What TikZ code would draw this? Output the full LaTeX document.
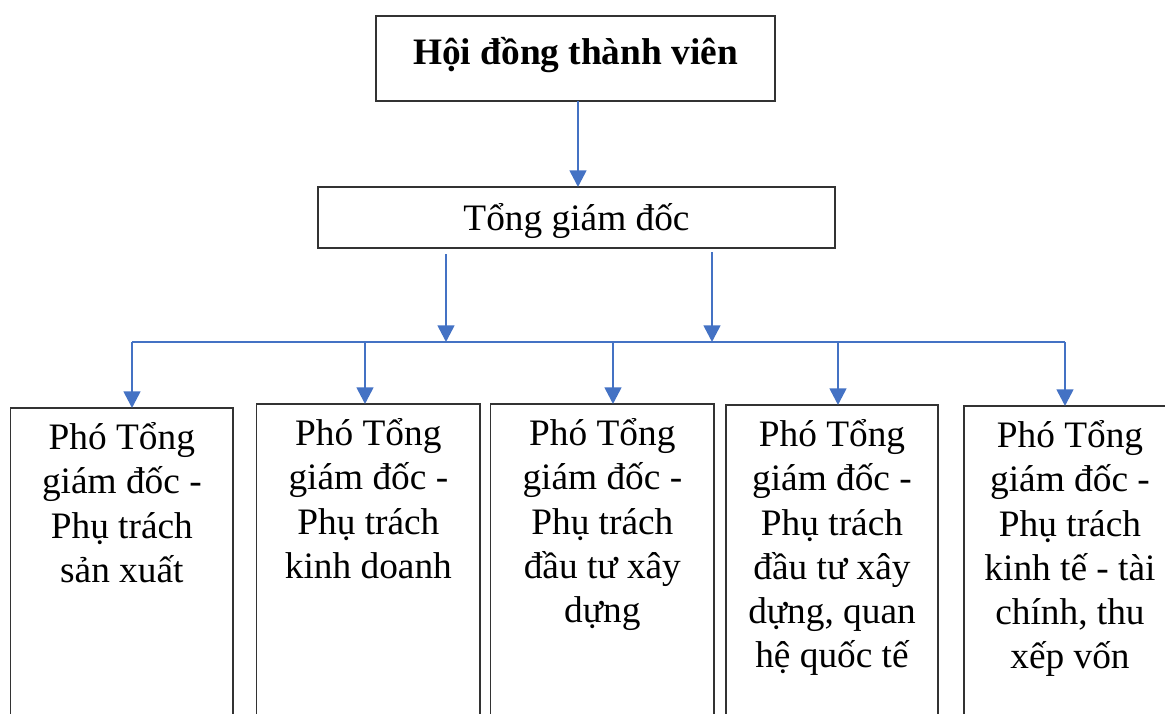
\documentclass[tikz,border=0pt]{standalone}
\usepackage{fontspec}
\setmainfont{Liberation Serif}
\usetikzlibrary{arrows.meta}
\definecolor{lineblue}{RGB}{68,114,196}
\tikzset{every picture/.style={line width=0.75pt}}
\tikzset{
  box/.style={draw=black!80, line width=1.1pt, inner sep=0pt, outer sep=0pt, anchor=north west, font=\fontsize{28pt}{33.2pt}\selectfont},
  boxtext/.style={font=\fontsize{28pt}{33.2pt}\selectfont, align=center, inner sep=0pt, anchor=north},
  bluearrow/.style={draw=lineblue, line width=2pt, -{Triangle[length=12.5pt,width=12.5pt]}},
  busline/.style={draw=lineblue, line width=1.2pt}
}

\begin{document}
\begin{tikzpicture}[x=0.75pt,y=0.75pt,yscale=-1,xscale=1]
	\useasboundingbox (0,0) rectangle (1165,714);
	
	%Shape: Rectangle
	\node [box, minimum width=299.25pt, minimum height=63.75pt] (hdtv) at (376,16) {};
	% Text Node
	\node [boxtext, anchor=base, font=\fontsize{28pt}{33.2pt}\selectfont\bfseries] (hdtvtext) at (575.5,64) {Hội đồng thành viên};
	%Shape: Rectangle
	\node [box, minimum width=387.75pt, minimum height=45.75pt, text depth=1.2pt] (tgd) at (318,187) {Tổng giám đốc};
	
	%Shape: Rectangle
	\node [box, minimum width=166.7pt, minimum height=241.5pt] (b1) at (10.7,408) {};
	%Shape: Rectangle
	\node [box, minimum width=167.5pt, minimum height=244.5pt] (b2) at (256.7,404) {};
	%Shape: Rectangle
	\node [box, minimum width=167.5pt, minimum height=244.5pt] (b3) at (490.7,404) {};
	%Shape: Rectangle
	\node [box, minimum width=159pt, minimum height=243.75pt] (b4) at (726,405) {};
	%Shape: Rectangle
	\node [box, minimum width=159pt, minimum height=243pt] (b5) at (964,406) {};
	
	% Text Node
	\node [boxtext] (t1) at (121.85,422) {Phó Tổng\\giám đốc -\\Phụ trách\\sản xuất};
	% Text Node
	\node [boxtext] (t2) at (368.35,418) {Phó Tổng\\giám đốc -\\Phụ trách\\kinh doanh};
	% Text Node
	\node [boxtext] (t3) at (602.35,418) {Phó Tổng\\giám đốc -\\Phụ trách\\đầu tư xây\\dựng};
	% Text Node
	\node [boxtext] (t4) at (832,419) {Phó Tổng\\giám đốc -\\Phụ trách\\đầu tư xây\\dựng, quan\\hệ quốc tế};
	% Text Node
	\node [boxtext] (t5) at (1070,420) {Phó Tổng\\giám đốc -\\Phụ trách\\kinh tế - tài\\chính, thu\\xếp vốn};
	
	%Straight Lines
	\coordinate (h1) at (578,101);
	\draw [bluearrow] (h1 |- hdtv.south) -- (h1 |- tgd.north);
	%Straight Lines
	\coordinate (s1) at (446,254);
	\coordinate (j1) at (446,342);
	\draw [bluearrow] (s1) -- (j1);
	%Straight Lines
	\coordinate (s2) at (712,252);
	\coordinate (j2) at (712,342);
	\draw [bluearrow] (s2) -- (j2);
	
	%Straight Lines
	\coordinate (d1) at (132,342);
	\coordinate (d2) at (365,342);
	\coordinate (d3) at (613,342);
	\coordinate (d4) at (838,342);
	\coordinate (d5) at (1065,342);
	\draw [busline] (d1) -- (d5);
	\draw [bluearrow] (d1) -- (d1 |- b1.north);
	\draw [bluearrow] (d2) -- (d2 |- b2.north);
	\draw [bluearrow] (d3) -- (d3 |- b3.north);
	\draw [bluearrow] (d4) -- (d4 |- b4.north);
	\draw [bluearrow] (d5) -- (d5 |- b5.north);
	
\end{tikzpicture}
\end{document}
